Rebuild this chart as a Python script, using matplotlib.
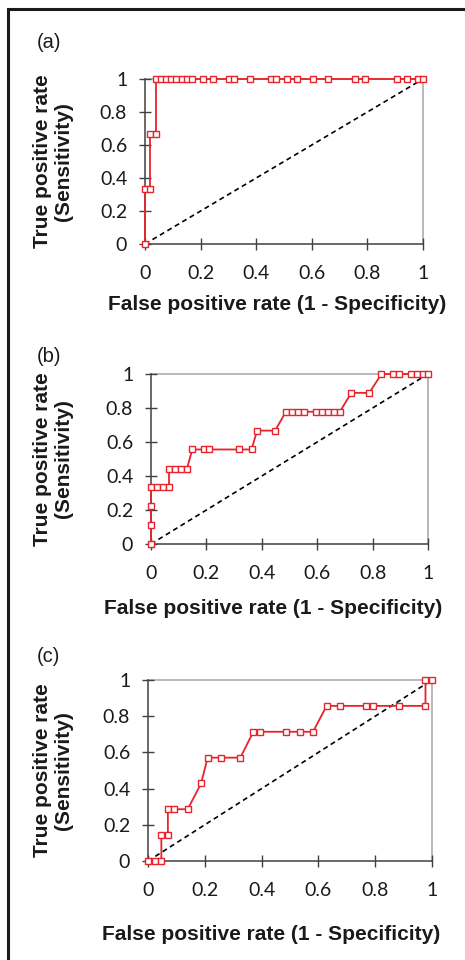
import matplotlib
matplotlib.use("Agg")
import matplotlib.pyplot as plt
from matplotlib.lines import Line2D
from matplotlib.ticker import FuncFormatter

# ROC curve data
fpr_a = [0, 0, 0.019, 0.019, 0.038, 0.038, 0.057, 0.075, 0.094, 0.113, 0.132,
         0.151, 0.170, 0.208, 0.245, 0.302, 0.321, 0.377, 0.453, 0.472, 0.509,
         0.547, 0.604, 0.660, 0.755, 0.792, 0.906, 0.943, 0.981, 1.0]
tpr_a = [0, 0.333, 0.333, 0.667, 0.667] + [1.0] * 25

fpr_b = [0, 0, 0, 0, 0.022, 0.043, 0.065, 0.065, 0.086, 0.108, 0.130, 0.149,
         0.192, 0.211, 0.319, 0.363, 0.383, 0.448, 0.487, 0.509, 0.531, 0.552,
         0.595, 0.617, 0.639, 0.660, 0.682, 0.723, 0.788, 0.832, 0.874, 0.896,
         0.939, 0.960, 0.982, 1.0]
tpr_b = [0, 0.111, 0.222, 0.333, 0.333, 0.333, 0.333, 0.444, 0.444, 0.444,
         0.444, 0.556, 0.556, 0.556, 0.556, 0.556, 0.667, 0.667, 0.778, 0.778,
         0.778, 0.778, 0.778, 0.778, 0.778, 0.778, 0.778, 0.889, 0.889, 1.0,
         1.0, 1.0, 1.0, 1.0, 1.0, 1.0]

fpr_c = [0, 0.023, 0.047, 0.047, 0.070, 0.070, 0.092, 0.140, 0.187, 0.210,
         0.256, 0.325, 0.371, 0.394, 0.487, 0.534, 0.581, 0.629, 0.675, 0.766,
         0.791, 0.883, 0.977, 0.977, 1.0]
tpr_c = [0, 0, 0, 0.143, 0.143, 0.286, 0.286, 0.286, 0.429, 0.571, 0.571,
         0.571, 0.714, 0.714, 0.714, 0.714, 0.714, 0.857, 0.857, 0.857, 0.857,
         0.857, 0.857, 1.0, 1.0]

panel_labels = ["(a)", "(b)", "(c)"]
ticks = [0, 0.2, 0.4, 0.6, 0.8, 1]
xlabel = "False positive rate (1 - Specificity)"
ylabel = "True positive rate\n(Sensitivity)"

W, H = 465, 960
fig = plt.figure(figsize=(W / 100, H / 100), dpi=100)


def fx(px):
    return px / W


def fy(py):
    return 1 - py / H


# axes boxes in pixels: left, top, right, bottom
boxes = [(145, 79, 423, 244), (151, 374, 428, 544), (148, 680, 432, 861)]
label_pos = [(37, 43), (37, 357), (37, 656)]
xlabel_pos = [(277, 305), (273, 608), (271, 935)]
series = [(fpr_a, tpr_a), (fpr_b, tpr_b), (fpr_c, tpr_c)]

red = "#e8232b"
dark = "#404040"
light = "#a6a6a6"
tick_font = "Lato"
label_font = "Liberation Sans"

for i, (l, t, r, b) in enumerate(boxes):
    ax = fig.add_axes([fx(l), fy(b), fx(r) - fx(l), (b - t) / H])
    x, y = series[i]
    ax.plot([0, 1], [0, 1], color="black", lw=1.2, ls=(0, (3, 2.2)),
            clip_on=False, zorder=2)
    ax.plot(x, y, color=red, lw=1.3, marker="s", ms=4.4, mfc="white",
            mec=red, mew=1.0, clip_on=False, zorder=3)
    ax.set_xlim(0, 1)
    ax.set_ylim(0, 1)
    ax.set_xticks(ticks)
    ax.set_yticks(ticks)
    fmt = FuncFormatter(lambda v, p: f"{v:g}")
    ax.xaxis.set_major_formatter(fmt)
    ax.yaxis.set_major_formatter(fmt)
    ax.tick_params(axis="both", direction="inout", length=8.6, width=1.0,
                   color=dark, labelsize=14)
    ax.tick_params(axis="y", pad=8.5)
    ax.tick_params(axis="x", pad=11)
    for lab in ax.get_xticklabels() + ax.get_yticklabels():
        lab.set_fontfamily(tick_font)
        lab.set_color("#1a1a1a")
    for s in ["left", "bottom"]:
        ax.spines[s].set_color(dark)
        ax.spines[s].set_linewidth(1.1)
    for s in ["top", "right"]:
        ax.spines[s].set_color(light)
        ax.spines[s].set_linewidth(1.1)
        ax.spines[s].set_zorder(1)

    xl, yl = xlabel_pos[i]
    fig.text(fx(xl), fy(yl), xlabel, ha="center", va="center", fontsize=15,
             fontweight="bold", family=label_font, color="#1a1a1a")
    fig.text(fx(53), fy((t + b) / 2), ylabel, ha="center", va="center",
             rotation=90, fontsize=15, fontweight="bold", family=label_font,
             color="#1a1a1a", linespacing=1.2, multialignment="center")
    lx, ly = label_pos[i]
    fig.text(fx(lx), fy(ly), panel_labels[i], ha="left", va="center",
             fontsize=14.5, family=label_font, color="#1a1a1a")

# frame around the figure (open at right and bottom)
fig.add_artist(Line2D([fx(8), fx(8)], [0, fy(9)], color="#1a1a1a", lw=2.2))
fig.add_artist(Line2D([fx(8), 1], [fy(9), fy(9)], color="#1a1a1a", lw=2.2))

fig.savefig("out.png", dpi=100)
